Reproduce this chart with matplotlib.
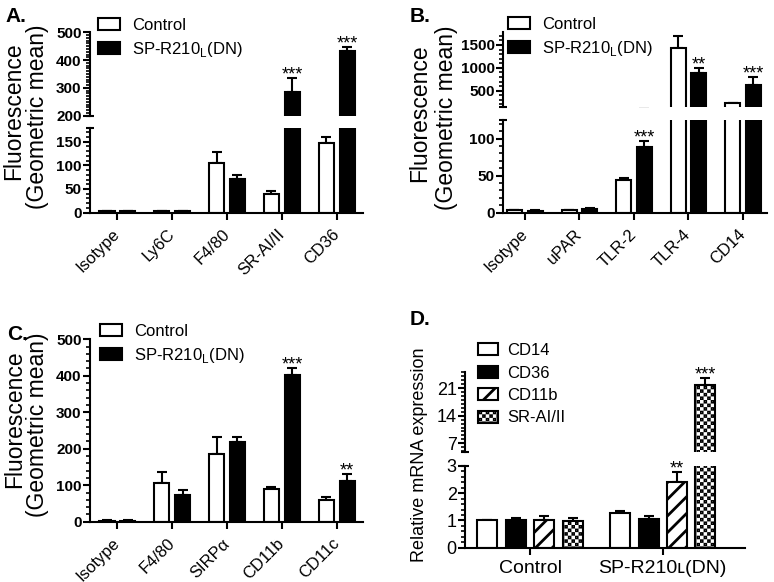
import numpy as np
import matplotlib
matplotlib.use('Agg')
import matplotlib.pyplot as plt
import matplotlib.hatch as mhatch
from matplotlib.path import Path
from matplotlib.ticker import MultipleLocator
from matplotlib.transforms import ScaledTranslation

plt.rcParams['font.family'] = ['Liberation Sans', 'DejaVu Sans']
plt.rcParams['hatch.linewidth'] = 2.0
plt.rcParams['axes.linewidth'] = 1.5

# ---- data ----
a_labels = ['Isotype', 'Ly6C', 'F4/80', 'SR-AI/II', 'CD36']
a_ctrl = [3, 3, 104, 39, 148]
a_ctrl_err = [1, 1, 23, 7, 11]
a_dn = [3, 3, 71, 286, 434]
a_dn_err = [1, 1, 9, 48, 14]
a_stars = ['', '', '', '***', '***']

b_labels = ['Isotype', 'uPAR', 'TLR-2', 'TLR-4', 'CD14']
b_ctrl = [3, 3, 44, 1428, 222]
b_ctrl_err = [1, 1, 3, 270, 10]
b_dn = [2, 5, 89, 894, 625]
b_dn_err = [1, 1, 8, 96, 180]
b_stars = ['', '', '***', '**', '***']

c_labels = ['Isotype', 'F4/80', 'SIRPα', 'CD11b', 'CD11c']
c_ctrl = [3, 105, 185, 91, 59]
c_ctrl_err = [1, 30, 46, 5, 9]
c_dn = [3, 73, 219, 402, 111]
c_dn_err = [1, 14, 12, 18, 19]
c_stars = ['', '', '', '***', '**']

d_groups = ['Control', 'SP-R210ʟ(DN)']
d_genes = ['CD14', 'CD36', 'CD11b', 'SR-AI/II']
d_cd14 = [1.0, 1.28]
d_cd14_err = [0.02, 0.06]
d_cd36 = [1.0, 1.07]
d_cd36_err = [0.1, 0.09]
d_cd11b = [1.03, 2.43]
d_cd11b_err = [0.12, 0.34]
d_sr = [0.98, 21.8]
d_sr_err = [0.1, 1.9]
d_stars = [['', ''], ['', ''], ['', '**'], ['', '***']]

dn_label = 'SP-R210$_\\mathregular{L}$(DN)'


# checkerboard hatch: take the place of the '*' pattern
class CheckerHatch(mhatch.HatchPatternBase):
    def __init__(self, hatch, density):
        self.n = 28 if '*' in hatch else 0
        self.num_vertices = (self.n * self.n // 2) * 5

    def set_vertices_and_codes(self, vertices, codes):
        s = 1.0 / self.n
        inset = plt.rcParams['hatch.linewidth'] * 100 / 72 / 2 / 100
        inset = min(inset, s / 2 - 0.001)
        k = 0
        for i in range(self.n):
            for j in range(self.n):
                if (i + j) % 2:
                    continue
                x0, y0 = i * s + inset, j * s + inset
                x1, y1 = (i + 1) * s - inset, (j + 1) * s - inset
                vertices[k:k + 5] = [(x0, y0), (x1, y0), (x1, y1), (x0, y1), (x0, y0)]
                codes[k:k + 5] = [Path.MOVETO, Path.LINETO, Path.LINETO,
                                  Path.LINETO, Path.CLOSEPOLY]
                k += 5


mhatch._hatch_types = [t for t in mhatch._hatch_types if t is not mhatch.Stars] + [CheckerHatch]

W, H = 774, 582
fig = plt.figure(figsize=(W / 100, H / 100), dpi=100)


def add_ax(x0, x1, ytop, ybot):
    return fig.add_axes([x0 / W, 1 - ybot / H, (x1 - x0) / W, (ybot - ytop) / H])


def style(ax, lower=True, tsize=11):
    for s in ['top', 'right']:
        ax.spines[s].set_visible(False)
    ax.tick_params(which='major', direction='out', length=5, width=1.5)
    ax.tick_params(which='minor', direction='out', length=3, width=1.2)
    ax.tick_params(axis='y', labelsize=tsize, pad=1)
    if not lower:
        ax.spines['bottom'].set_visible(False)
        ax.tick_params(axis='x', which='both', bottom=False, labelbottom=False)


def break_marks(lower, upper):
    for ax, y in ((lower, 1), (upper, 0)):
        ax.plot([-0.015, 0.015], [y, y], transform=ax.transAxes, color='k',
                lw=1.5, clip_on=False, solid_capstyle='butt')


def err_bars(ax, x, vals, errs):
    ax.errorbar(x, vals, yerr=[np.zeros(len(vals)), errs], fmt='none', ecolor='k',
                elinewidth=1.5, capsize=3.5, capthick=1.5, zorder=1)


def star(axs, x, top, s, size=13):
    if not s:
        return
    ax = axs[0]
    for a in axs:
        lo, hi = a.get_ylim()
        if lo <= top <= hi:
            ax = a
    ax.annotate(s, (x, top), xytext=(0, -1), textcoords='offset points',
                ha='center', va='baseline', fontsize=size)


def fluor_panel(axs, labels, ctrl, ctrl_err, dn, dn_err, xlim, w=0.275, off=0.19):
    x = np.arange(len(labels))
    for ax in axs:
        ax.bar(x - off, ctrl, w, color='white', edgecolor='k', linewidth=1.5,
               label='Control', zorder=2)
        ax.bar(x + off, dn, w, color='k', edgecolor='k', linewidth=1.5,
               label=dn_label, zorder=2)
        err_bars(ax, x - off, ctrl, ctrl_err)
        err_bars(ax, x + off, dn, dn_err)
        ax.set_xlim(xlim)
    bottom = axs[0]
    bottom.set_xticks(x)
    bottom.set_xticklabels(labels, rotation=45, ha='right', va='center',
                           rotation_mode='anchor', fontsize=12)
    bottom.tick_params(axis='x', pad=9)
    for t in bottom.get_xticklabels():
        t.set_transform(t.get_transform() + ScaledTranslation(0.06, 0, fig.dpi_scale_trans))
    return x


def fluor_legend(ax, x0, y0):
    ax.legend(loc='upper left', bbox_to_anchor=(x0 / W, 1 - y0 / H),
              bbox_transform=fig.transFigure, frameon=False, fontsize=12,
              handlelength=1.32, handleheight=0.72, handletextpad=0.7,
              labelspacing=0.42, borderpad=0, borderaxespad=0)


def fluor_ylabel(x1, y1, x2, y2):
    fig.text(x1 / W, 1 - y1 / H, 'Fluorescence', rotation=90,
             ha='center', va='center', fontsize=16.5)
    fig.text(x2 / W, 1 - y2 / H, '(Geometric mean)', rotation=90,
             ha='center', va='center', fontsize=16.5)


# ---------------- A ----------------
a_lo = add_ax(90, 363, 128.3, 212.7)
a_hi = add_ax(90, 363, 32.3, 115.7)
xa = fluor_panel([a_lo, a_hi], a_labels, a_ctrl, a_ctrl_err, a_dn, a_dn_err, (-0.5, 4.48))
a_lo.set_ylim(0, 178)
a_hi.set_ylim(200, 500)
a_lo.yaxis.set_major_locator(MultipleLocator(50))
a_lo.yaxis.set_minor_locator(MultipleLocator(10))
a_hi.yaxis.set_major_locator(MultipleLocator(100))
a_hi.yaxis.set_minor_locator(MultipleLocator(10))
style(a_lo)
style(a_hi, lower=False)
break_marks(a_lo, a_hi)
for i, s in enumerate(a_stars):
    star([a_lo, a_hi], xa[i] + 0.19, a_dn[i] + a_dn_err[i], s)
fluor_legend(a_hi, 98, 18)
fluor_ylabel(14, 111, 38, 117)

# ---------------- B ----------------
b_lo = add_ax(503, 767, 120, 212.7)
b_hi = add_ax(503, 767, 31.7, 107.3)
xb = fluor_panel([b_lo, b_hi], b_labels, b_ctrl, b_ctrl_err, b_dn, b_dn_err, (-0.4, 4.44))
b_lo.set_ylim(0, 125)
b_hi.set_ylim(137, 1790)
b_lo.yaxis.set_major_locator(MultipleLocator(50))
b_lo.yaxis.set_minor_locator(MultipleLocator(10))
b_hi.yaxis.set_major_locator(MultipleLocator(500))
b_hi.yaxis.set_minor_locator(MultipleLocator(100))
style(b_lo)
style(b_hi, lower=False)
break_marks(b_lo, b_hi)
for i, s in enumerate(b_stars):
    star([b_lo, b_hi], xb[i] + 0.19, b_dn[i] + b_dn_err[i], s)
fluor_legend(b_hi, 508, 17)
fluor_ylabel(420, 113, 446, 118)

# ---------------- C ----------------
c_ax = add_ax(90, 363, 339.3, 521.7)
xc = fluor_panel([c_ax], c_labels, c_ctrl, c_ctrl_err, c_dn, c_dn_err, (-0.5, 4.48))
c_ax.set_ylim(0, 500)
c_ax.yaxis.set_major_locator(MultipleLocator(100))
c_ax.yaxis.set_minor_locator(MultipleLocator(20))
style(c_ax)
for i, s in enumerate(c_stars):
    star([c_ax], xc[i] + 0.19, c_dn[i] + c_dn_err[i], s)
fluor_legend(c_ax, 100, 324)
fluor_ylabel(15, 419, 38, 425)

# ---------------- D ----------------
d_lo = add_ax(465, 745, 466, 547.7)
d_hi = add_ax(465, 745, 371.7, 452.3)
xd = np.arange(len(d_groups))
d_vals = [d_cd14, d_cd36, d_cd11b, d_sr]
d_errs = [d_cd14_err, d_cd36_err, d_cd11b_err, d_sr_err]
d_face = ['white', 'black', 'white', 'white']
d_hatch = [None, None, '//', '*']
d_w = 0.151
d_step = 0.214
for ax in (d_lo, d_hi):
    for k in range(4):
        xs = xd + (k - 1.5) * d_step
        ax.bar(xs, d_vals[k], d_w, color=d_face[k], edgecolor='k', linewidth=1.5,
               hatch=d_hatch[k], label=d_genes[k], zorder=2)
        err_bars(ax, xs, d_vals[k], d_errs[k])
    ax.set_xlim(-0.49, 1.62)
d_lo.set_ylim(0, 3)
d_hi.set_ylim(4.7, 25.2)
d_lo.yaxis.set_major_locator(MultipleLocator(1))
d_lo.yaxis.set_minor_locator(MultipleLocator(0.2))
d_hi.yaxis.set_major_locator(MultipleLocator(7))
d_hi.yaxis.set_minor_locator(MultipleLocator(1))
d_lo.set_xticks(xd)
d_lo.set_xticklabels(d_groups, fontsize=14)
d_lo.tick_params(axis='x', pad=4)
style(d_lo, tsize=13)
style(d_hi, lower=False, tsize=13)
break_marks(d_lo, d_hi)
for k in range(4):
    for g in range(2):
        star([d_lo, d_hi], xd[g] + (k - 1.5) * d_step, d_vals[k][g] + d_errs[k][g], d_stars[k][g])
d_hi.legend(loc='upper left', bbox_to_anchor=(478 / W, 1 - 343 / H),
            bbox_transform=fig.transFigure, frameon=False, fontsize=12,
            handlelength=1.2, handleheight=0.72, handletextpad=0.55,
            labelspacing=0.45, borderpad=0, borderaxespad=0)
fig.text(420 / W, 1 - 455 / H, 'Relative mRNA expression', rotation=90,
         ha='center', va='center', fontsize=13)

# ---------------- panel letters ----------------
for x, y, s in ((5, 22, 'A.'), (410, 22, 'B.'), (7, 340, 'C.'), (410, 325, 'D.')):
    fig.text(x / W, 1 - y / H, s, fontsize=15, fontweight='bold', va='baseline')

# bold y tick labels in panels A-C
for ax in (a_lo, a_hi, b_lo, b_hi, c_ax):
    plt.setp(ax.get_yticklabels(), fontweight='bold')

fig.savefig('out.png', dpi=100)
